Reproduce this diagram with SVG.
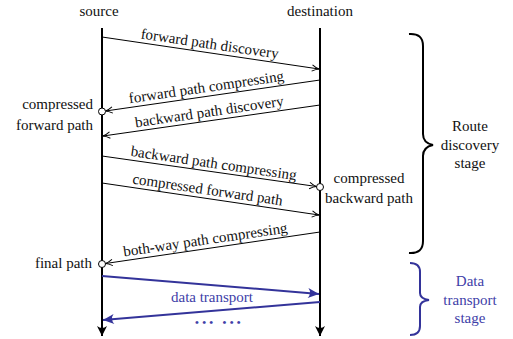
<svg xmlns="http://www.w3.org/2000/svg" width="513" height="339" viewBox="0 0 513 339" font-family="'Liberation Serif', 'Times New Roman', serif" font-size="15">
<style>
text{font-family:"Liberation Serif","Times New Roman",serif;font-size:15px;fill:#111}
.b{fill:#4040a8}
.life{stroke:#000;stroke-width:2;fill:none}
.msg{stroke:#000;stroke-width:1;fill:none}
.blue{stroke:#33339a;stroke-width:2;fill:none}
.dot{fill:#fff;stroke:#000;stroke-width:1}
.m{text-anchor:middle}
.e{text-anchor:end}
</style>
<defs>
<marker id="ah" markerUnits="userSpaceOnUse" markerWidth="12" markerHeight="10" refX="0" refY="0" viewBox="-9 -5 12 10" orient="auto" overflow="visible">
<path d="M-7,-3.2 Q-3,-0.6 0,0 Q-3,0.6 -7,3.2" fill="none" stroke="#000" stroke-width="1"/>
</marker>
<marker id="ahb" markerUnits="userSpaceOnUse" markerWidth="16" markerHeight="12" refX="0" refY="0" viewBox="-14 -6 16 12" orient="auto" overflow="visible">
<path d="M0,0 L-11,-5 Q-7,0 -11,5 Z" fill="#33339a"/>
</marker>
<marker id="ahl" markerUnits="userSpaceOnUse" markerWidth="16" markerHeight="12" refX="0" refY="0" viewBox="-14 -6 16 12" orient="auto" overflow="visible">
<path d="M0,0 L-10,-5 Q-6,0 -10,5 Z" fill="#000"/>
</marker>
</defs>
<g id="source">
<text class="m" x="99" y="16">source</text>
<line class="life" x1="102" y1="28" x2="102" y2="336" marker-end="url(#ahl)"/>
</g>
<g id="destination">
<text class="m" x="320" y="16">destination</text>
<line class="life" x1="320" y1="28" x2="320" y2="336" marker-end="url(#ahl)"/>
</g>
<g id="connectors">
<line class="msg" x1="102" y1="37" x2="319" y2="69" marker-end="url(#ah)"/>
<line class="msg" x1="320" y1="80" x2="105.5" y2="111" marker-end="url(#ah)"/>
<line class="msg" x1="320" y1="105" x2="103" y2="136" marker-end="url(#ah)"/>
<line class="msg" x1="102" y1="156" x2="316.5" y2="186.5" marker-end="url(#ah)"/>
<line class="msg" x1="102" y1="183" x2="319" y2="215" marker-end="url(#ah)"/>
<line class="msg" x1="320" y1="232" x2="105.5" y2="263.5" marker-end="url(#ah)"/>
<line class="blue" x1="102" y1="276" x2="319" y2="294" marker-end="url(#ahb)"/>
<line class="blue" x1="320" y1="302" x2="103" y2="320" marker-end="url(#ahb)"/>
</g>
<g id="labels">
<text class="m" transform="translate(209,48.5) rotate(8.35)">forward path discovery</text>
<text class="m" transform="translate(207,92) rotate(-8.35)">forward path compressing</text>
<text class="m" transform="translate(210,116.5) rotate(-8.35)">backward path discovery</text>
<text class="m" transform="translate(213,168) rotate(8.35)">backward path compressing</text>
<text class="m" transform="translate(207,194.5) rotate(8.35)">compressed forward path</text>
<text class="m" transform="translate(206,244.5) rotate(-8.35)">both-way path compressing</text>
<text class="m b" x="212" y="302">data transport</text>
<text class="b" x="195" y="325.5" style="font-size:11px;font-weight:bold;letter-spacing:3.3px">••• •••</text>
</g>
<g id="compressed-forward-path">
<circle class="dot" cx="102" cy="111.5" r="3.5"/>
<text class="e" x="93" y="109">compressed</text>
<text class="e" x="93" y="130">forward path</text>
</g>
<g id="compressed-backward-path">
<circle class="dot" cx="320" cy="187" r="3.5"/>
<text class="m" x="369" y="183">compressed</text>
<text class="m" x="369" y="203">backward path</text>
</g>
<g id="final-path">
<circle class="dot" cx="102" cy="264" r="3.5"/>
<text class="e" x="92" y="268">final path</text>
</g>
<g id="route-discovery-stage">
<path d="M409,34 Q423,33 423,46 L423,134 Q423,143 433,145 Q423,147 423,156 L423,241 Q423,254 409,253" fill="none" stroke="#000" stroke-width="2"/>
<text class="m" x="470" y="131">Route</text>
<text class="m" x="470" y="150">discovery</text>
<text class="m" x="470" y="168">stage</text>
</g>
<g id="data-transport-stage">
<path d="M410,263 Q420,263 420,272 L420,293 Q420,299 429,300 Q420,301 420,307 L420,326 Q420,335 410,335" fill="none" stroke="#33339a" stroke-width="2"/>
<text class="m b" x="470" y="286">Data</text>
<text class="m b" x="470" y="305">transport</text>
<text class="m b" x="470" y="323">stage</text>
</g>
</svg>
